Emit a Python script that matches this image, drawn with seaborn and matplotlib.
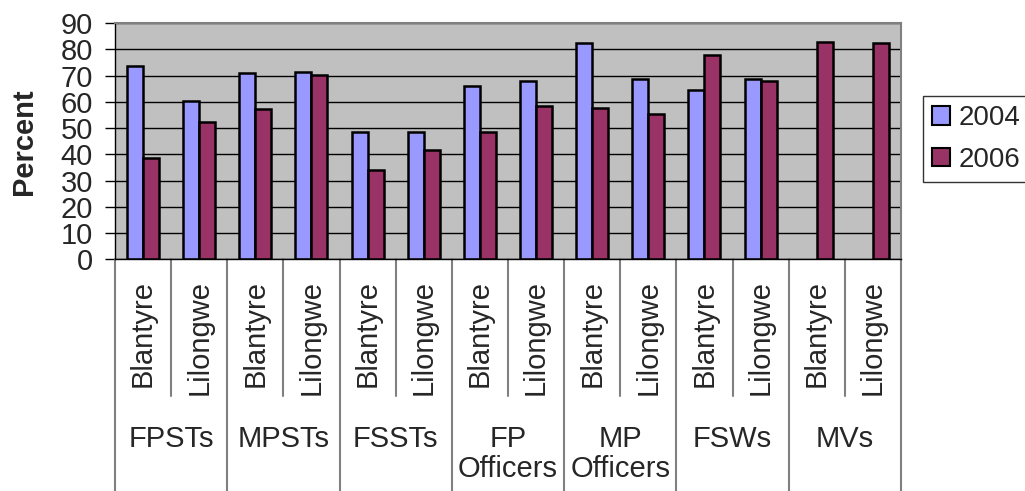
import numpy as np
import pandas as pd
import matplotlib
matplotlib.use('Agg')
import matplotlib.pyplot as plt
import seaborn as sns

# values (percent)
groups = ['FPSTs', 'MPSTs', 'FSSTs', 'FP\nOfficers', 'MP\nOfficers', 'FSWs', 'MVs']
sites = ['Blantyre', 'Lilongwe']
years = ['2004', '2006']
pct_2004 = [73.8, 60.3, 70.9, 71.6, 48.7, 48.7, 66.2, 67.9, 82.4, 68.6, 64.7, 68.6, np.nan, np.nan]
pct_2006 = [38.8, 52.5, 57.2, 70.2, 34.2, 41.8, 48.7, 58.5, 57.8, 55.5, 77.8, 67.9, 83.0, 82.4]
colors = ['#9999FF', '#993366']

keys = [f'{g}|{s}' for g in groups for s in sites]
rows = []
for k, v4, v6 in zip(keys, pct_2004, pct_2006):
    if not np.isnan(v4):
        rows.append({'cat': k, 'year': '2004', 'pct': v4})
    rows.append({'cat': k, 'year': '2006', 'pct': v6})
df = pd.DataFrame(rows)

sns.set_style('white')
plt.rcParams['font.family'] = ['Liberation Sans', 'DejaVu Sans']

fig = plt.figure(figsize=(10.25, 4.91), dpi=100)
ax = fig.add_axes([0.1122, 0.4719, 0.7668, 0.4807])

sns.barplot(data=df, x='cat', y='pct', hue='year', order=keys, hue_order=years,
            palette=colors, width=0.57, edgecolor='black', linewidth=1.8,
            saturation=1, ax=ax)

ax.set_facecolor('#C0C0C0')
ax.set_ylim(0, 90)
ax.set_xlim(-0.5, len(keys) - 0.5)
ax.set_yticks(range(0, 91, 10))
ax.yaxis.grid(True, color='black', linewidth=1)
ax.set_axisbelow(True)
ax.tick_params(axis='y', which='both', left=True, length=7, width=1, color='black',
               labelsize=21, pad=9)
ax.set_xticks(range(len(keys)))
ax.set_xticklabels([s for g in groups for s in sites], rotation=90, fontsize=21)
ax.tick_params(axis='x', length=0, pad=15)
ax.set_xlabel('')
ax.set_ylabel('Percent', fontsize=21, fontweight='bold', labelpad=16)

for side in ['top', 'right']:
    ax.spines[side].set_color('#808080')
    ax.spines[side].set_linewidth(1.5)
for side in ['left', 'bottom']:
    ax.spines[side].set_color('black')
    ax.spines[side].set_linewidth(1)

# multi-level category axis separators
tr = ax.get_xaxis_transform()
for i in range(len(groups)):
    ax.plot([2 * i + 0.5] * 2, [0, -0.579], transform=tr, color='#808080',
            linewidth=1.5, clip_on=False)
for i in range(len(groups) + 1):
    ax.plot([2 * i - 0.5] * 2, [0, -1.0], transform=tr, color='#808080',
            linewidth=1.5, clip_on=False)
for i, g in enumerate(groups):
    ax.text(2 * i + 0.5, -0.70, g, transform=tr, ha='center', va='top',
            fontsize=21, linespacing=1.1)

ax.legend_.remove()
handles = [plt.Rectangle((0, 0), 1, 1, facecolor=c, edgecolor='black', linewidth=1.5)
           for c in colors]
leg = fig.legend(handles, years, loc='upper left', bbox_to_anchor=(0.900, 0.805),
                 fontsize=20, frameon=True, fancybox=False, edgecolor='black',
                 handlelength=0.65, handleheight=0.65, handletextpad=0.3,
                 labelspacing=0.55, borderpad=0.35, borderaxespad=0)
leg.get_frame().set_linewidth(1)

fig.savefig('out.png', dpi=100, facecolor='white')
